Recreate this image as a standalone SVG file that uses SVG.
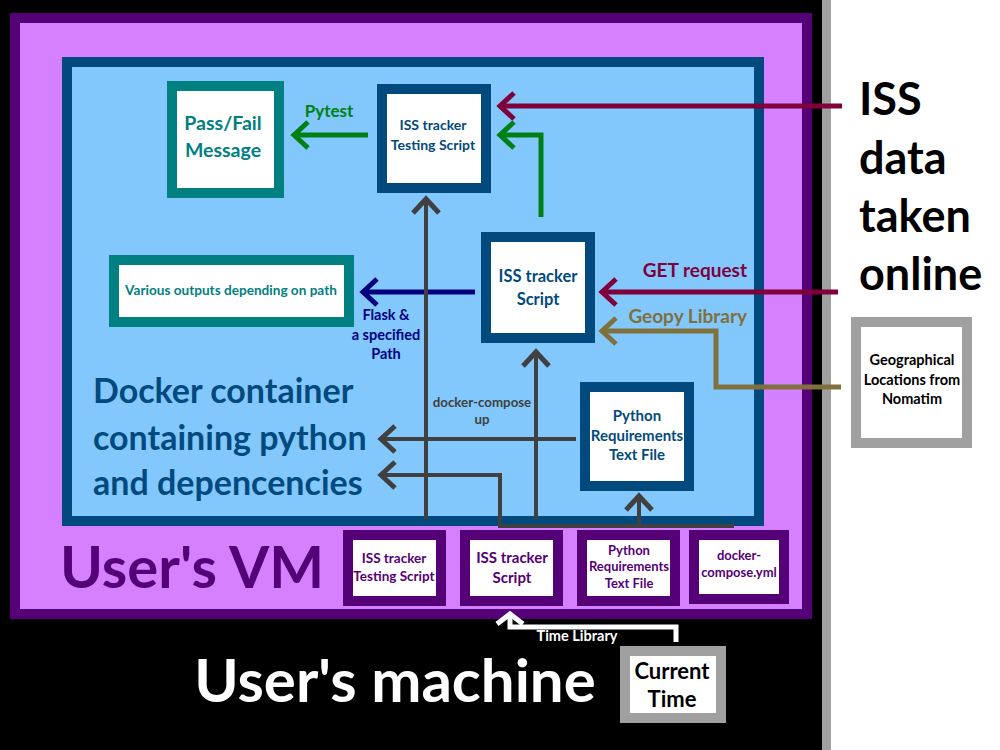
<svg xmlns="http://www.w3.org/2000/svg" width="1000" height="750" viewBox="0 0 1000 750">
<defs>
<style>
text{font-family:Lato,"Open Sans","Liberation Sans",sans-serif;font-weight:bold;text-anchor:middle}
.dk{fill:#024A7E}
.vm{fill:#560078}
.frame{fill:#ffffff;stroke-width:10}
.con{fill:none;stroke-width:5;stroke-linejoin:miter}
.gcon{fill:none;stroke:#404040;stroke-width:4}
.chev{fill:none;stroke-width:5}
</style>
<marker id="aRed" viewBox="-20 -20 40 40" markerWidth="40" markerHeight="40" refX="0" refY="0" orient="auto" markerUnits="userSpaceOnUse" overflow="visible"><path class="chev" d="M-14,-13 L0,0 L-14,13" stroke="#80003C"/></marker>
<marker id="aGreen" viewBox="-20 -20 40 40" markerWidth="40" markerHeight="40" refX="0" refY="0" orient="auto" markerUnits="userSpaceOnUse" overflow="visible"><path class="chev" d="M-14,-13 L0,0 L-14,13" stroke="#008014"/></marker>
<marker id="aNavy" viewBox="-20 -20 40 40" markerWidth="40" markerHeight="40" refX="0" refY="0" orient="auto" markerUnits="userSpaceOnUse" overflow="visible"><path class="chev" d="M-14,-13 L0,0 L-14,13" stroke="#00007F"/></marker>
<marker id="aOlive" viewBox="-20 -20 40 40" markerWidth="40" markerHeight="40" refX="0" refY="0" orient="auto" markerUnits="userSpaceOnUse" overflow="visible"><path class="chev" d="M-14,-13 L0,0 L-14,13" stroke="#80703C"/></marker>
<marker id="aGray" viewBox="-20 -20 40 40" markerWidth="40" markerHeight="40" refX="0" refY="0" orient="auto" markerUnits="userSpaceOnUse" overflow="visible"><path class="chev" d="M-14,-13 L0,0 L-14,13" stroke="#404040"/></marker>
<marker id="aWhite" viewBox="-20 -20 40 40" markerWidth="40" markerHeight="40" refX="0" refY="0" orient="auto" markerUnits="userSpaceOnUse" overflow="visible"><path class="chev" d="M-10,-13 L0,0 L-10,13" stroke="#ffffff"/></marker>
</defs>

<rect x="0" y="0" width="1000" height="750" fill="#ffffff"/>
<rect x="0" y="0" width="822" height="750" fill="#000000"/>
<rect x="822" y="0" width="9" height="750" fill="#A0A0A0"/>

<g id="users-machine">
<text x="395" y="702" font-size="60" fill="#ffffff">User's machine</text>
</g>

<g id="users-vm">
<rect x="15" y="18" width="792" height="596" fill="#D580FF" stroke="#560078" stroke-width="10"/>
<text x="192" y="588" font-size="58" class="vm">User's VM</text>
</g>

<g id="docker-container">
<rect x="67" y="62" width="692" height="459" fill="#82C8FC" stroke="#024A7E" stroke-width="10"/>
<text x="93" y="403" font-size="34" class="dk" style="text-anchor:start">Docker container</text>
<text x="93" y="450" font-size="34" class="dk" style="text-anchor:start">containing python</text>
<text x="93" y="495" font-size="34" class="dk" style="text-anchor:start">and depencencies</text>
</g>

<g id="pass-fail">
<rect x="172" y="86" width="107" height="107" class="frame" stroke="#008080"/>
<text x="223" y="130" font-size="19.5" fill="#008080">Pass/Fail</text>
<text x="223" y="157" font-size="19.5" fill="#008080">Message</text>
</g>

<g id="testing-script">
<rect x="382" y="89" width="104" height="99" class="frame" stroke="#024A7E"/>
<text x="433" y="130" font-size="14" class="dk">ISS tracker</text>
<text x="433" y="150" font-size="14" class="dk">Testing Script</text>
</g>

<g id="various-outputs">
<rect x="114" y="260" width="235" height="62" class="frame" stroke="#008080"/>
<text x="231" y="295" font-size="13.6" fill="#008080">Various outputs depending on path</text>
</g>

<g id="tracker-script">
<rect x="486" y="237" width="104" height="101" class="frame" stroke="#024A7E"/>
<text x="538" y="282" font-size="16.5" class="dk">ISS tracker</text>
<text x="538" y="305" font-size="16.5" class="dk">Script</text>
</g>

<g id="requirements">
<rect x="585" y="387" width="104" height="99" class="frame" stroke="#024A7E"/>
<text x="637" y="421" font-size="15" class="dk">Python</text>
<text x="637" y="441" font-size="15" class="dk">Requirements</text>
<text x="637" y="460" font-size="15" class="dk">Text File</text>
</g>

<g id="geo-locations">
<rect x="856" y="322" width="111" height="121" class="frame" stroke="#A0A0A0"/>
<text x="912" y="365" font-size="14.5" fill="#000000">Geographical</text>
<text x="912" y="385" font-size="14.5" fill="#000000">Locations from</text>
<text x="912" y="404" font-size="14.5" fill="#000000">Nomatim</text>
</g>

<g id="iss-data-online">
<text x="859" y="115" font-size="45" fill="#000000" style="text-anchor:start">ISS</text>
<text x="859" y="174" font-size="45" fill="#000000" style="text-anchor:start">data</text>
<text x="859" y="232" font-size="45" fill="#000000" style="text-anchor:start">taken</text>
<text x="859" y="290" font-size="45" fill="#000000" style="text-anchor:start">online</text>
</g>

<g id="vm-testing-script">
<rect x="348" y="535" width="93" height="66" class="frame" stroke="#560078"/>
<text x="394" y="563" font-size="13.5" class="vm">ISS tracker</text>
<text x="394" y="581" font-size="13.5" class="vm">Testing Script</text>
</g>
<g id="vm-tracker-script">
<rect x="465" y="535" width="93" height="66" class="frame" stroke="#560078"/>
<text x="512" y="563" font-size="15" class="vm">ISS tracker</text>
<text x="512" y="583" font-size="15" class="vm">Script</text>
</g>
<g id="vm-requirements">
<rect x="582" y="535" width="93" height="66" class="frame" stroke="#560078"/>
<text x="629" y="555" font-size="13" class="vm">Python</text>
<text x="629" y="571" font-size="13" class="vm">Requirements</text>
<text x="629" y="588" font-size="13" class="vm">Text File</text>
</g>
<g id="vm-compose">
<rect x="694" y="535" width="90" height="64" class="frame" stroke="#560078"/>
<text x="739" y="560" font-size="13" class="vm">docker-</text>
<text x="739" y="577" font-size="13" class="vm">compose.yml</text>
</g>

<g id="current-time">
<rect x="625" y="651" width="96" height="67" class="frame" stroke="#A0A0A0"/>
<text x="672" y="679" font-size="22" fill="#000000">Current</text>
<text x="672" y="707" font-size="22" fill="#000000">Time</text>
</g>

<g id="connectors">
<polyline class="con" stroke="#80003C" points="842,106 500,106" marker-end="url(#aRed)"/>
<polyline class="con" stroke="#008014" points="541,217 541,135 500,135" marker-end="url(#aGreen)"/>
<polyline class="con" stroke="#008014" points="368,135 294,135" marker-end="url(#aGreen)"/>
<text x="329" y="117" font-size="17" fill="#008014">Pytest</text>
<polyline class="con" stroke="#80003C" points="838,292 602,292" marker-end="url(#aRed)"/>
<text x="747" y="277" font-size="19" fill="#80003C" style="text-anchor:end">GET request</text>
<polyline class="con" stroke="#80703C" points="841,387 716,387 716,331 602,331" marker-end="url(#aOlive)"/>
<text x="747" y="323" font-size="19" fill="#80703C" style="text-anchor:end">Geopy Library</text>
<polyline class="con" stroke="#00007F" points="475,292 363,292" marker-end="url(#aNavy)"/>
<text x="386" y="320" font-size="14.5" fill="#00007F">Flask &amp;</text>
<text x="386" y="340" font-size="14.5" fill="#00007F">a specified</text>
<text x="386" y="359" font-size="14.5" fill="#00007F">Path</text>
<polyline class="gcon" points="426,519 426,199" marker-end="url(#aGray)"/>
<polyline class="gcon" points="536,519 536,352" marker-end="url(#aGray)"/>
<polyline class="gcon" points="576,439 381,439" marker-end="url(#aGray)"/>
<polyline class="gcon" points="734,526 500,526 500,475 381,475" marker-end="url(#aGray)"/>
<polyline class="gcon" points="639,526 639,496" marker-end="url(#aGray)"/>
<text x="482" y="407" font-size="13.3" fill="#404040">docker-compose</text>
<text x="482" y="424" font-size="13.3" fill="#404040">up</text>
<polyline class="con" stroke="#ffffff" points="676,642 676,627 510,627 510,614" marker-end="url(#aWhite)"/>
<text x="577" y="641" font-size="14.5" fill="#ffffff">Time Library</text>
</g>
</svg>
